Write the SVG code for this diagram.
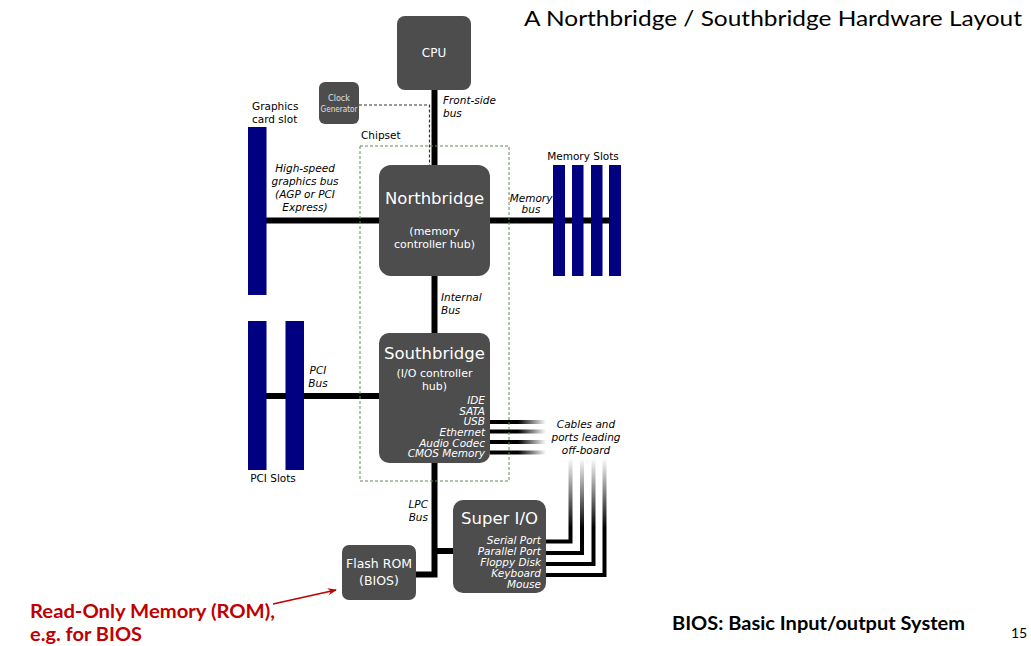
<svg xmlns="http://www.w3.org/2000/svg" width="1031" height="646" viewBox="0 0 1031 646">
<style>
.box{fill:#4d4d4d}
.slot{fill:#000080}
.bus{stroke:#000;stroke-width:6;fill:none}
.cab{stroke-width:4;fill:none}
.w{fill:#fff;font-family:"DejaVu Sans",sans-serif}
.lb{fill:#000;font-family:"DejaVu Sans",sans-serif;font-size:10.5px}
.it{font-style:italic}
.cal{font-family:Lato,"Liberation Sans",sans-serif}
</style>
<defs>
<linearGradient id="gh" gradientUnits="userSpaceOnUse" x1="490" y1="0" x2="546" y2="0">
<stop offset="0" stop-color="#000"/><stop offset="0.5" stop-color="#000"/><stop offset="1" stop-color="#000" stop-opacity="0"/>
</linearGradient>
<linearGradient id="gv" gradientUnits="userSpaceOnUse" x1="0" y1="528" x2="0" y2="458">
<stop offset="0" stop-color="#000"/><stop offset="1" stop-color="#000" stop-opacity="0"/>
</linearGradient>
<marker id="ar" viewBox="0 0 10 10" refX="9" refY="5" markerWidth="9" markerHeight="9" markerUnits="userSpaceOnUse" orient="auto">
<path d="M0,1 L10,5 L0,9 L3,5 Z" fill="#c00000"/>
</marker>
</defs>
<rect width="1031" height="646" fill="#fff"/>

<g id="connectors">
<line class="bus" x1="434.5" y1="90" x2="434.5" y2="165"/>
<path d="M359,105 H429.5 V165" stroke="#333" stroke-width="1.2" stroke-dasharray="3,2" fill="none"/>
<line class="bus" x1="266" y1="220.5" x2="379" y2="220.5"/>
<line class="bus" x1="490" y1="220.5" x2="620" y2="220.5"/>
<line class="bus" x1="434.5" y1="276" x2="434.5" y2="333"/>
<line class="bus" x1="266" y1="396" x2="379" y2="396"/>
<path class="bus" d="M434.5,463 V577 M434.5,551 H453 M416,574.5 H437.5"/>
<g stroke="url(#gh)" class="cab">
<line x1="490" y1="422" x2="546" y2="422"/>
<line x1="490" y1="431.5" x2="546" y2="431.5"/>
<line x1="490" y1="442" x2="546" y2="442"/>
<line x1="490" y1="452.5" x2="546" y2="452.5"/>
</g>
<g stroke="url(#gv)" class="cab">
<path d="M546,541.5 H570.5 V458"/>
<path d="M546,553 H582 V458"/>
<path d="M546,564 H593.5 V458"/>
<path d="M546,575 H604.5 V458"/>
</g>
<line x1="273" y1="604" x2="336" y2="590" stroke="#c00000" stroke-width="1.5" marker-end="url(#ar)"/>
</g>

<g id="chipset">
<rect x="360" y="146" width="149" height="335" fill="none" stroke="#5f8a5f" stroke-width="1" stroke-dasharray="3,2"/>
<text class="lb" x="361" y="139">Chipset</text>
</g>

<g id="cpu">
<rect class="box" x="397" y="16" width="74" height="74" rx="8"/>
<text class="w" x="434" y="57" font-size="12" text-anchor="middle">CPU</text>
</g>

<g id="clock">
<rect class="box" x="319" y="82" width="40" height="42" rx="6"/>
<text x="339" y="100.5" font-size="8.5" text-anchor="middle" fill="#e0e0e0" font-family="DejaVu Sans Condensed,DejaVu Sans,sans-serif" textLength="22" lengthAdjust="spacingAndGlyphs">Clock</text>
<text x="339" y="112" font-size="8.5" text-anchor="middle" fill="#e0e0e0" font-family="DejaVu Sans Condensed,DejaVu Sans,sans-serif" textLength="37" lengthAdjust="spacingAndGlyphs">Generator</text>
</g>
<text class="lb it" x="443" y="104">Front-side</text>
<text class="lb it" x="443" y="117">bus</text>

<g id="graphics-slot">
<rect class="slot" x="248" y="127" width="18.5" height="168"/>
<text class="lb" x="252" y="110">Graphics</text>
<text class="lb" x="252" y="123">card slot</text>
</g>
<g class="lb it" text-anchor="middle">
<text x="305" y="172">High-speed</text>
<text x="305" y="185">graphics bus</text>
<text x="305" y="198">(AGP or PCI</text>
<text x="305" y="211">Express)</text>
</g>

<g id="northbridge">
<rect class="box" x="379" y="165" width="111" height="111" rx="12"/>
<text class="w" x="434.5" y="204" font-size="16.5" text-anchor="middle">Northbridge</text>
<text class="w" x="434.5" y="235" font-size="11" text-anchor="middle">(memory</text>
<text class="w" x="434.5" y="247.5" font-size="11" text-anchor="middle">controller hub)</text>
</g>

<g id="memory-slots">
<rect class="slot" x="553" y="165" width="12" height="111"/>
<rect class="slot" x="572" y="165" width="11.5" height="111"/>
<rect class="slot" x="591" y="165" width="11.5" height="111"/>
<rect class="slot" x="609" y="165" width="12" height="111"/>
<text class="lb" x="583" y="160" text-anchor="middle">Memory Slots</text>
</g>
<text class="lb it" x="531" y="202" text-anchor="middle">Memory</text>
<text class="lb it" x="531" y="213" text-anchor="middle">bus</text>

<text class="lb it" x="441" y="301">Internal</text>
<text class="lb it" x="441" y="314">Bus</text>

<g id="pci-slots">
<rect class="slot" x="248" y="321" width="18.5" height="149"/>
<rect class="slot" x="285.5" y="321" width="18.5" height="149"/>
<text class="lb" x="273" y="482" text-anchor="middle">PCI Slots</text>
</g>
<text class="lb it" x="318" y="374" text-anchor="middle">PCI</text>
<text class="lb it" x="318" y="387" text-anchor="middle">Bus</text>

<g id="southbridge">
<rect class="box" x="379" y="333" width="111" height="130" rx="10"/>
<text class="w" x="434.5" y="359" font-size="16.5" text-anchor="middle">Southbridge</text>
<text class="w" x="434.5" y="377" font-size="11" text-anchor="middle">(I/O controller</text>
<text class="w" x="434.5" y="390" font-size="11" text-anchor="middle">hub)</text>
<g class="w it" font-size="10.5" text-anchor="end">
<text x="485" y="404">IDE</text>
<text x="485" y="414.5">SATA</text>
<text x="485" y="425">USB</text>
<text x="485" y="435.5">Ethernet</text>
<text x="485" y="446.5">Audio Codec</text>
<text x="485" y="457">CMOS Memory</text>
</g>
</g>

<g class="lb it" text-anchor="middle">
<text x="586" y="428">Cables and</text>
<text x="586" y="441">ports leading</text>
<text x="586" y="454">off-board</text>
</g>

<text class="lb it" x="428" y="508" text-anchor="end">LPC</text>
<text class="lb it" x="428" y="521" text-anchor="end">Bus</text>

<g id="super-io">
<rect class="box" x="453" y="500" width="93" height="93" rx="10"/>
<text class="w" x="499.5" y="524" font-size="16.5" text-anchor="middle">Super I/O</text>
<g class="w it" font-size="10.5" text-anchor="end">
<text x="541" y="544">Serial Port</text>
<text x="541" y="555">Parallel Port</text>
<text x="541" y="566">Floppy Disk</text>
<text x="541" y="577">Keyboard</text>
<text x="541" y="588">Mouse</text>
</g>
</g>

<g id="flash-rom">
<rect class="box" x="342" y="545" width="74" height="55" rx="7"/>
<text class="w" x="379" y="567.5" font-size="12.5" text-anchor="middle">Flash ROM</text>
<text class="w" x="379" y="584.5" font-size="12.5" text-anchor="middle">(BIOS)</text>
</g>

<text class="cal" x="524" y="26" font-size="22" textLength="498" lengthAdjust="spacingAndGlyphs">A Northbridge / Southbridge Hardware Layout</text>
<g class="cal" font-weight="bold" fill="#c00000" font-size="18.5">
<text x="30" y="618" textLength="245" lengthAdjust="spacingAndGlyphs">Read-Only Memory (ROM),</text>
<text x="30" y="641" textLength="112" lengthAdjust="spacingAndGlyphs">e.g. for BIOS</text>
</g>
<text class="cal" x="672" y="630" font-size="18" font-weight="bold" textLength="293" lengthAdjust="spacingAndGlyphs">BIOS: Basic Input/output System</text>
<text class="cal" x="1011" y="638" font-size="14">15</text>
</svg>
